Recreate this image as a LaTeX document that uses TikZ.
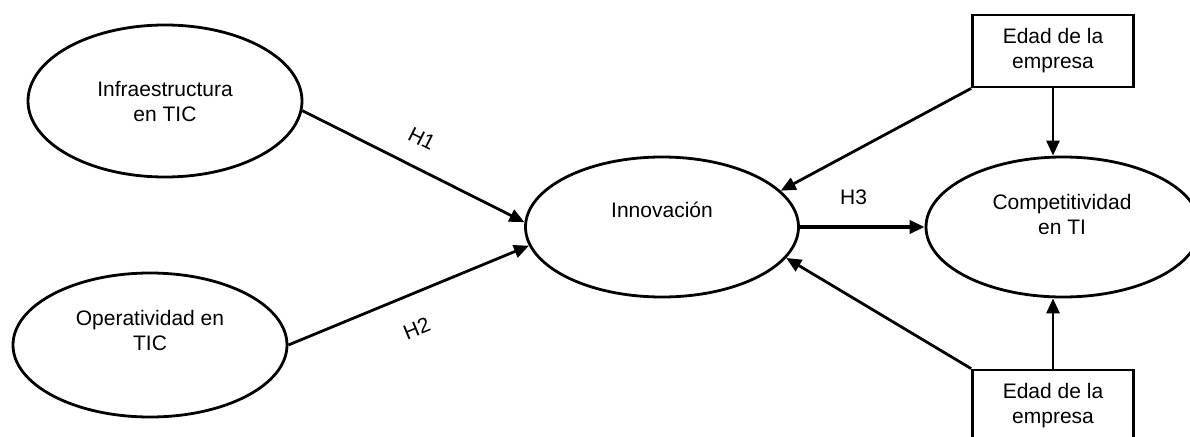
\documentclass[tikz,border=0pt]{standalone}
\usepackage{fontspec}
\setmainfont{Liberation Sans}
\usetikzlibrary{arrows.meta,positioning,calc,shapes}

\begin{document}
\begin{tikzpicture}[x=1pt,y=-1pt,font=\fontsize{21}{25}\selectfont,
  var/.style={draw,ellipse,line width=2.8pt,inner sep=0},
  ctrl/.style={draw,rectangle,line width=2.8pt,minimum width=161pt,minimum height=72pt,inner sep=0,align=center},
  txt/.style={align=center,inner sep=0},
  link/.style={-{Triangle[length=15pt,width=13pt]},line width=2.8pt},
  hyp/.style={inner sep=0,sloped}]
\useasboundingbox (0,0) rectangle (1190,436);

% Latent variables
\node[var,minimum width=274pt,minimum height=152pt] (infra) at (165,101) {};
\node[txt] (infratxt) at (165,102) {Infraestructura\\en TIC};

\node[var,minimum width=274pt,minimum height=144pt] (oper) at (150,345) {};
\node[txt] (opertxt) at (150,330) {Operatividad en\\TIC};

\node[var,minimum width=273pt,minimum height=140pt] (innov) at (662,227) {};
\node[txt] (innovtxt) at (662,210) {Innovaci\'on};

\node[var,minimum width=274pt,minimum height=140pt] (comp) at (1063,227) {};
\node[txt] (comptxt) at (1062,214) {Competitividad\\en TI};

% Control variables
\node[ctrl] (edadtop) at (1053,51) {Edad de la\\empresa};
\node[ctrl] (edadbot) at (1053,406) {Edad de la\\empresa};

% Hypotheses
\draw[link] (infra.-4) -- node[hyp,above=20pt,pos=0.48] (h1) {H1} (innov.178);
\draw[link] (oper.east) -- node[hyp,below=25pt,pos=0.48] (h2) {H2} (innov.188);
\draw[link,line width=4.2pt] (innov.east) -- node[inner sep=0,above=20pt,pos=0.43] (h3) {H3} (comp.west);

% Controls
\draw[link] (edadtop.south west) -- (innov.17);
\draw[link] (edadtop.south) -- (edadtop.south |- comp.north);
\draw[link] (edadbot.north west) -- (innov.-14);
\draw[link] (edadbot.north) -- (edadbot.north |- comp.south);
\end{tikzpicture}
\end{document}
